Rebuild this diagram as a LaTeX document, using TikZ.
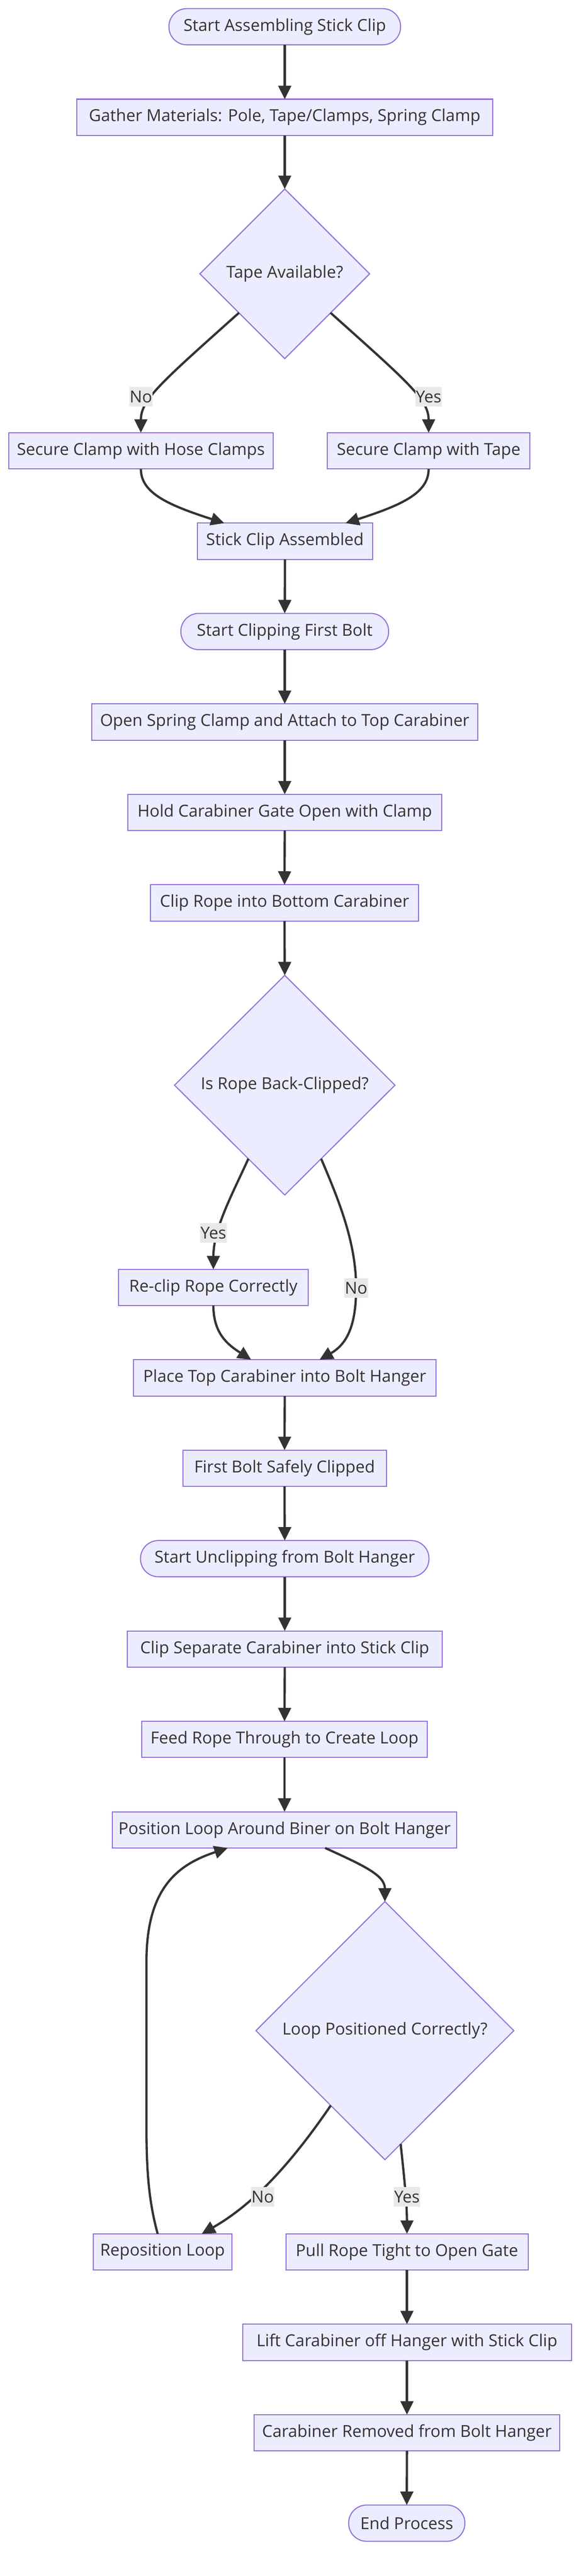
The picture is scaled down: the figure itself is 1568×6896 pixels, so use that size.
\documentclass[tikz,border=0pt]{standalone}
\usepackage{fontspec}
\setmainfont{Open Sans}
\usetikzlibrary{shapes.geometric,arrows.meta,calc}
\definecolor{nodefill}{HTML}{ECECFF}
\definecolor{nodeline}{HTML}{9370DB}
\definecolor{edgecol}{HTML}{333333}
\definecolor{lblfill}{HTML}{E8E8E8}
\definecolor{txt}{HTML}{333333}
\begin{document}
\begin{tikzpicture}[x=0.25pt,y=-0.25pt,
  base/.style={draw=nodeline, fill=nodefill, line width=0.7pt, text=txt,
    font=\fontsize{11.05pt}{13pt}\selectfont, inner sep=0pt, outer sep=0pt,
    minimum height=24.25pt},
  proc/.style={base, rectangle},
  term/.style={base, rectangle, rounded corners=12pt},
  decision/.style={base, diamond, aspect=1},
  flow/.style={draw=edgecol, line width=1.5pt, -{Triangle[length=9pt,width=8.5pt]}},
  elabel/.style={fill=lblfill, text=txt, font=\fontsize{11.05pt}{13pt}\selectfont,
    inner xsep=0.3pt, inner ysep=0pt, minimum height=13.25pt}
]
\fill[white] (0,0) rectangle (1568,6896);
\useasboundingbox (0,0) rectangle (1568,6896);

% nodes
\node[term, minimum width=155pt] (start) at (762,71.5) {Start Assembling Stick Clip};
\node[proc, minimum width=278pt] (gather) at (762,314) {Gather Materials: Pole, Tape/Clamps, Spring Clamp};
\node[decision, minimum width=113.5pt, minimum height=113.5pt] (tape) at (762,733) {Tape Available?};
\node[proc, minimum width=177pt] (hose) at (377,1207) {Secure Clamp with Hose Clamps};
\node[proc, minimum width=135.5pt] (tapebox) at (1147,1207) {Secure Clamp with Tape};
\node[proc, minimum width=117.25pt] (assembled) at (762.5,1449) {Stick Clip Assembled};
\node[term, minimum width=139pt] (startclip) at (762,1690.5) {Start Clipping First Bolt};
\node[proc, minimum width=258.5pt] (openspring) at (762,1933) {Open Spring Clamp and Attach to Top Carabiner};
\node[proc, minimum width=210pt] (hold) at (762,2175) {Hold Carabiner Gate Open with Clamp};
\node[proc, minimum width=179.25pt] (cliprope) at (761.5,2417) {Clip Rope into Bottom Carabiner};
\node[decision, minimum width=147.5pt, minimum height=147pt] (backclip) at (762,2905) {Is Rope Back-Clipped?};
\node[proc, minimum width=127pt] (reclip) at (571,3446.5) {Re-clip Rope Correctly};
\node[proc, minimum width=202.5pt] (placetop) at (762,3688.5) {Place Top Carabiner into Bolt Hanger};
\node[proc, minimum width=136.25pt] (firstbolt) at (761.5,3930.5) {First Bolt Safely Clipped};
\node[term, minimum width=193pt] (startunclip) at (762,4172.5) {Start Unclipping from Bolt Hanger};
\node[proc, minimum width=210.5pt] (clipsep) at (762,4414.5) {Clip Separate Carabiner into Stick Clip};
\node[proc, minimum width=191.25pt] (feed) at (761.5,4656.5) {Feed Rope Through to Create Loop};
\node[proc, minimum width=230.25pt] (position) at (761.5,4898.5) {Position Loop Around Biner on Bolt Hanger};
\node[decision, minimum width=172.5pt, minimum height=172.75pt] (loop) at (1030,5436) {Loop Positioned Correctly?};
\node[proc, minimum width=93pt] (repos) at (435,6028.5) {Reposition Loop};
\node[proc, minimum width=162pt] (pull) at (1089,6028.5) {Pull Rope Tight to Open Gate};
\node[proc, minimum width=220pt] (lift) at (1089,6270.5) {Lift Carabiner off Hanger with Stick Clip};
\node[proc, minimum width=204.5pt] (removed) at (1089,6512.5) {Carabiner Removed from Bolt Hanger};
\node[term, minimum width=77.75pt] (endp) at (1088.5,6754.5) {End Process};

% waypoints
\coordinate (bcno) at (953,3448);
\coordinate (rp1) at (392,5700);
\coordinate (rp2) at (392,5250);

% edges
\draw[flow] (start.south) -- (gather.north);
\draw[flow] (gather.south) -- (tape.north);
\draw[flow] ($(tape.west)!0.46!(tape.south)$) .. controls (430,1025) and (377,1070) .. (hose.north);
\draw[flow] ($(tape.east)!0.46!(tape.south)$) .. controls (1094,1025) and (1147,1070) .. (tapebox.north);
\draw[flow] (hose.south) .. controls (377,1320) and (450,1352) .. ($(assembled.north west)!0.154!(assembled.north east)$);
\draw[flow] (tapebox.south) .. controls (1147,1320) and (1075,1352) .. ($(assembled.north west)!0.846!(assembled.north east)$);
\draw[flow] (assembled.south) -- (startclip.north);
\draw[flow] (startclip.south) -- (openspring.north);
\draw[flow] (openspring.south) -- (hold.north);
\draw[flow] (hold.south) -- (cliprope.north);
\draw[flow] (cliprope.south) -- (backclip.north);
\draw[flow] ($(backclip.west)!0.67!(backclip.south)$) .. controls (620,3200) and (571,3290) .. (reclip.north);
\draw[flow] ($(backclip.east)!0.67!(backclip.south)$) .. controls (910,3220) and (953,3330) .. (bcno)
  .. controls (953,3555) and (925,3600) .. ($(placetop.north west)!0.615!(placetop.north east)$);
\draw[flow] (reclip.south) .. controls (571,3570) and (610,3600) .. ($(placetop.north west)!0.389!(placetop.north east)$);
\draw[flow] (placetop.south) -- (firstbolt.north);
\draw[flow] (firstbolt.south) -- (startunclip.north);
\draw[flow] (startunclip.south) -- (clipsep.north);
\draw[flow] (clipsep.south) -- (feed.north);
\draw[flow] (feed.south) -- (position.north);
\draw[flow] ($(position.south west)!0.618!(position.south east)$) .. controls (975,4995) and (1030,5020) .. (loop.north);
\draw[flow] ($(loop.west)!0.58!(loop.south)$) .. controls (780,5790) and (680,5900) .. ($(repos.north west)!0.782!(repos.north east)$);
\draw[flow] ($(loop.south)!0.122!(loop.east)$) .. controls (1082,5830) and (1089,5900) .. (pull.north);
\draw[flow] ($(repos.north west)!0.465!(repos.north east)$) .. controls (400,5900) and (392,5820) .. (rp1)
  -- (rp2) .. controls (392,5050) and (480,4990) .. ($(position.south west)!0.335!(position.south east)$);
\draw[flow] (pull.south) -- (lift.north);
\draw[flow] (lift.south) -- (removed.north);
\draw[flow] (removed.south) -- (endp.north);

% edge labels
\node[elabel] (l1) at (377,1062) {No};
\node[elabel] (l2) at (1147,1062) {Yes};
\node[elabel] (l3) at (571,3300) {Yes};
\node[elabel] (l4) at (bcno) {No};
\node[elabel] (l5) at (703,5881) {No};
\node[elabel] (l6) at (1089,5881) {Yes};
\end{tikzpicture}
\end{document}
